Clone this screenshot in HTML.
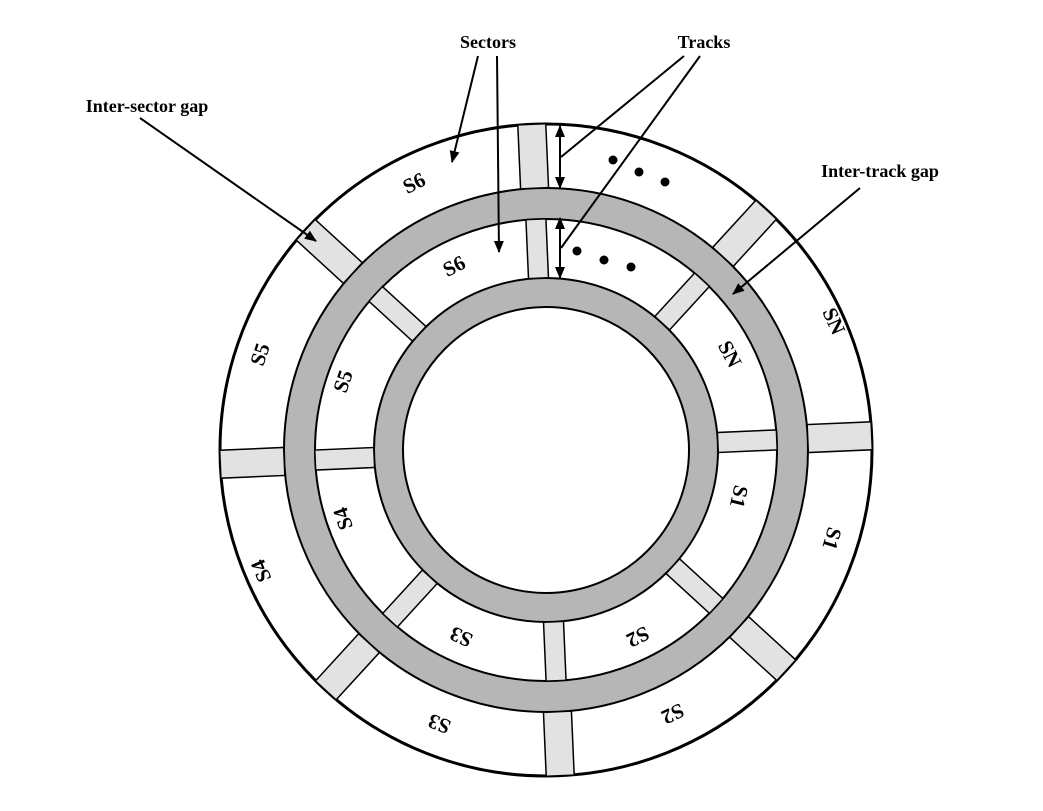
<!DOCTYPE html>
<html><head><meta charset="utf-8"><style>
html,body{margin:0;padding:0;background:#fff;}
svg{display:block;}
text{font-family:"Liberation Serif",serif;font-weight:bold;}
</style></head><body>
<svg id="disk" width="1043" height="811" viewBox="0 0 1043 811" xmlns="http://www.w3.org/2000/svg">
<defs>
<marker id="ah" markerWidth="12" markerHeight="12" refX="11" refY="6" orient="auto" markerUnits="userSpaceOnUse"><path d="M0,1 L12,6 L0,11 z" fill="#000"/></marker>
</defs>
<circle cx="546" cy="450" r="326" fill="#fff" stroke="#000" stroke-width="3"/>
<circle cx="546" cy="450" r="262" fill="#b6b6b6" stroke="#000" stroke-width="2"/>
<circle cx="546" cy="450" r="231" fill="#fff" stroke="#000" stroke-width="2"/>
<circle cx="546" cy="450" r="172" fill="#b6b6b6" stroke="#000" stroke-width="2"/>
<circle cx="546" cy="450" r="143" fill="#fff" stroke="#000" stroke-width="2"/>
<g id="gaps"></g>
<g id="labels"></g>
<g fill="#000">
<circle cx="613" cy="160" r="4.5"/><circle cx="639" cy="172" r="4.5"/><circle cx="665" cy="182" r="4.5"/>
<circle cx="577" cy="251" r="4.5"/><circle cx="604" cy="260" r="4.5"/><circle cx="631" cy="267" r="4.5"/>
</g>
<g stroke="#000" stroke-width="2" fill="none">
<line x1="478" y1="56" x2="452" y2="162" marker-end="url(#ah)"/>
<line x1="497" y1="56" x2="499" y2="252" marker-end="url(#ah)"/>
<line x1="684" y1="56" x2="561" y2="157"/>
<line x1="700" y1="56" x2="561" y2="248"/>
<line x1="140" y1="118" x2="316" y2="241" marker-end="url(#ah)"/>
<line x1="860" y1="188" x2="733" y2="294" marker-end="url(#ah)"/>
<line x1="560" y1="156" x2="560" y2="126" marker-end="url(#ah)"/>
<line x1="560" y1="156" x2="560" y2="188" marker-end="url(#ah)"/>
<line x1="560" y1="248" x2="560" y2="218" marker-end="url(#ah)"/>
<line x1="560" y1="248" x2="560" y2="278" marker-end="url(#ah)"/>
</g>
<g font-size="18">
<text x="488" y="48" text-anchor="middle">Sectors</text>
<text x="704" y="48" text-anchor="middle">Tracks</text>
<text x="147" y="112" text-anchor="middle">Inter-sector gap</text>
<text x="880" y="177" text-anchor="middle">Inter-track gap</text>
</g>
</svg>
<script>
const cx=546, cy=450;
const gapAngles=[-90,-45,0,45,90,135,180,225];
const gapOffset=-2.5;
const outerLabels=["S6","S5","S4","S3","S2","S1","SN"];
const outerLabelX=[415,262,263,440,672,830,832];
const outerLabelY=[185,355,570,722,712,538,322];
const innerLabels=["S6","S5","S4","S3","S2","S1","SN"];
const innerLabelX=[455,345,345,462,637,737,728];
const innerLabelY=[268,382,518,635,635,496,355];
const NS="http://www.w3.org/2000/svg";
const gaps=document.getElementById('gaps');
function gap(a,r1,r2,w,name){
  const el=document.createElementNS(NS,'rect');
  
  
  el.setAttribute('x',r1);el.setAttribute('y',-w/2);
  el.setAttribute('width',r2-r1);el.setAttribute('height',w);
  el.setAttribute('fill','#e2e2e2');el.setAttribute('stroke','#000');el.setAttribute('stroke-width','1.5');
  el.setAttribute('transform',`translate(${cx},${cy}) rotate(${a+gapOffset})`);
  gaps.appendChild(el);
}
gapAngles.forEach(a=>{gap(a,262,326,28,'outer-sector-gap');gap(a,172,231,20,'inner-sector-gap');});
const lg=document.getElementById('labels');
function lab(t,x,y,name){
  const rot=Math.atan2(y-cy,x-cx)*180/Math.PI+90;
  const el=document.createElementNS(NS,'text');
  
  
  el.setAttribute('x',x);el.setAttribute('y',y);
  el.setAttribute('font-size','21');el.setAttribute('text-anchor','middle');el.setAttribute('dominant-baseline','middle');
  el.setAttribute('transform',`rotate(${rot} ${x} ${y})`);
  el.textContent=t;lg.appendChild(el);
}
outerLabels.forEach((t,i)=>lab(t,outerLabelX[i],outerLabelY[i],'outer-sector-label'));
innerLabels.forEach((t,i)=>lab(t,innerLabelX[i],innerLabelY[i],'inner-sector-label'));
</script>
</body></html>
